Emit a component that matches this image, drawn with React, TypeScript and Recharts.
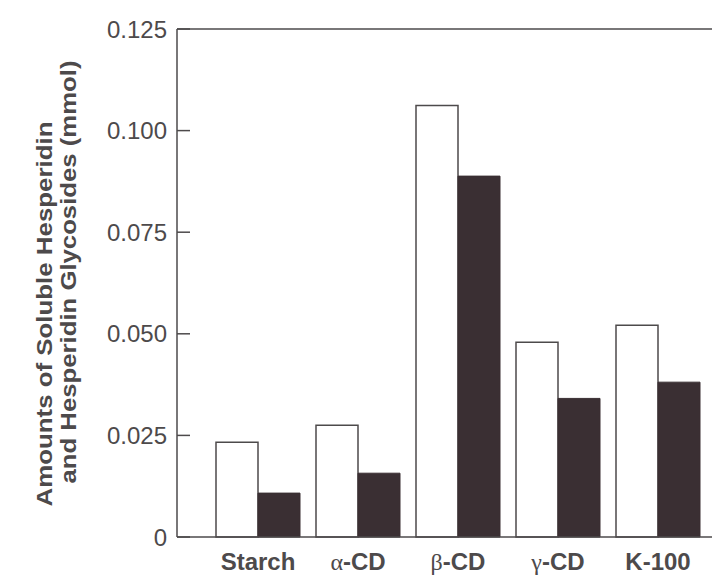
import React from "react"
import { Bar, BarChart, XAxis, YAxis, ReferenceLine } from "recharts"

const categories = ["Starch", "α-CD", "β-CD", "γ-CD", "K-100"]
const openBars = [0.0233, 0.0275, 0.1062, 0.0479, 0.0521]
const filledBars = [0.0108, 0.0157, 0.0888, 0.0341, 0.0381]
const yTicks = [0, 0.025, 0.05, 0.075, 0.1, 0.125]
const yMax = 0.125

const data = categories.map((name, i) => ({
  name,
  open: openBars[i],
  filled: filledBars[i],
}))

const ink = "#4d4a4b"
const sans = "'Liberation Sans', Arial, Helvetica, sans-serif"
const serif = "'Liberation Serif', 'Times New Roman', serif"

function XTick(props: any) {
  const x = Number(props.x)
  const y = Number(props.y)
  const label: string = props.payload.value
  const greek = /^[αβγ]/.test(label)
  return (
    <text x={x} y={y} dy={33} textAnchor="middle" fontFamily={sans} fontSize={24} fontWeight="bold" fill={ink}>
      {greek ? (
        <>
          <tspan fontFamily={serif} fontWeight="normal">{label[0]}</tspan>
          <tspan>{label.slice(1)}</tspan>
        </>
      ) : (
        label
      )}
    </text>
  )
}

function YTitle() {
  return (
    <g fontFamily={sans} fontSize={22} fontWeight="bold" fill={ink}>
      <text x={0} y={0} transform="translate(52, 314) rotate(-90)" textAnchor="middle" textLength={385} lengthAdjust="spacingAndGlyphs">
        Amounts of Soluble Hesperidin
      </text>
      <text x={0} y={0} transform="translate(76, 272) rotate(-90)" textAnchor="middle" textLength={423} lengthAdjust="spacingAndGlyphs">
        and Hesperidin Glycosides (mmol)
      </text>
    </g>
  )
}

const formatY = (v: number) => (v === 0 ? "0" : v.toFixed(3))

export default function App() {
  return (
    <div style={{ position: "absolute", left: 0, top: 0, background: "#fff" }}>
      <BarChart
        width={712}
        height={579}
        data={data}
        margin={{ top: 29, right: 0, bottom: 0, left: 0 }}
        barGap={0}
        barCategoryGap={8}
      >
        <XAxis
          dataKey="name"
          height={42}
          axisLine={{ stroke: ink, strokeWidth: 1.5 }}
          tickLine={false}
          tickSize={0}
          tickMargin={0}
          padding={{ left: 31, right: 4 }}
          tick={<XTick />}
          interval={0}
        />
        {/* negative tickSize points the tick marks into the plot */}
        <YAxis
          width={177}
          domain={[0, yMax]}
          ticks={yTicks}
          axisLine={{ stroke: ink, strokeWidth: 1.5 }}
          tickLine={{ stroke: ink, strokeWidth: 1.5 }}
          tickSize={-13}
          tickMargin={23}
          tickFormatter={formatY}
          tick={{ fill: ink, fontSize: 24, fontFamily: sans }}
          label={{ content: () => <YTitle /> }}
        />
        <ReferenceLine y={yMax} stroke={ink} strokeWidth={1.5} />
        <Bar dataKey="open" fill="#ffffff" stroke={ink} strokeWidth={1.5} isAnimationActive={false} />
        <Bar dataKey="filled" fill="#3a2f33" stroke="#3a2f33" strokeWidth={1} isAnimationActive={false} />
      </BarChart>
    </div>
  )
}
